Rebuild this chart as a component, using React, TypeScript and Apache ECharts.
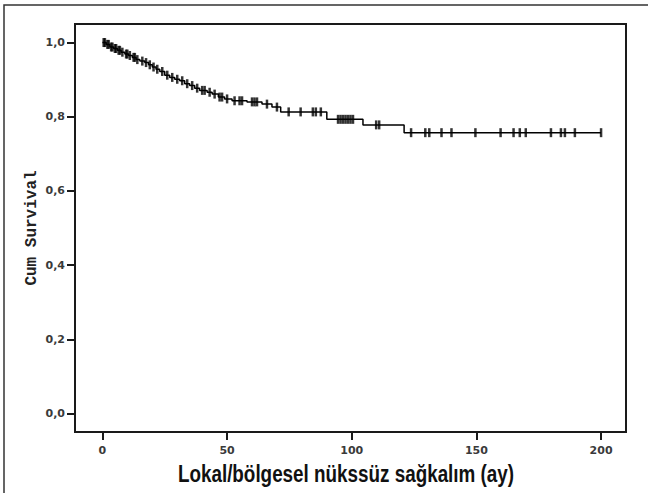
import React, { useEffect, useRef } from "react";
import * as echarts from "echarts";

// Kaplan-Meier step times (months) and survival after each step
const stepTimes = [0, 1.5, 3, 4.5, 6, 7.5, 9, 10.5, 12, 13.5, 15, 17, 18.5, 20, 21.5, 23, 25, 27, 29, 31, 33, 35, 37, 39, 42, 44, 46.5, 49, 52, 58, 64, 68, 71.5, 90, 104.5, 121];
const survivalSteps = [1.0, 0.995, 0.988, 0.984, 0.979, 0.974, 0.969, 0.965, 0.96, 0.954, 0.95, 0.946, 0.94, 0.934, 0.928, 0.922, 0.912, 0.906, 0.901, 0.897, 0.889, 0.884, 0.877, 0.871, 0.866, 0.861, 0.853, 0.848, 0.843, 0.84, 0.834, 0.826, 0.813, 0.793, 0.778, 0.757];
const endTime = 200;

// censored observations (months)
const censorTimes = [0.5, 1, 2, 2.5, 3.5, 4, 5, 5.5, 6.5, 7, 8, 9.5, 10, 11, 12.5, 13, 14, 16, 17.5, 19, 20.5, 22, 24, 26, 28, 30, 32, 34, 36, 38, 40, 41, 43, 45, 47, 48, 50, 53, 55, 56, 60, 61, 62, 66, 70, 74.7, 79.5, 84.4, 85.6, 87.6, 94.5, 95.5, 96.5, 97.5, 98.5, 99.5, 100.5, 109.8, 111, 123.8, 129.5, 131.1, 136, 140, 149.6, 159.7, 164.9, 167.4, 169.8, 179.9, 183.9, 185.5, 189.5, 200];

const xTicks = [0, 50, 100, 150, 200];
const yTicks = [0, 0.2, 0.4, 0.6, 0.8, 1.0];

const xTitle = "Lokal/bölgesel nükssüz sağkalım (ay)";
const yTitle = "Cum Survival";

function survivalAt(t: number): number {
  let s = survivalSteps[0];
  for (let i = 0; i < stepTimes.length; i++) {
    if (stepTimes[i] <= t) s = survivalSteps[i];
  }
  return s;
}

export default function App() {
  const ref = useRef<HTMLDivElement>(null);
  useEffect(() => {
    if (!ref.current) return;
    const chart = echarts.init(ref.current, null, { renderer: "svg" });
    const lineData: number[][] = stepTimes.map((t, i) => [t, survivalSteps[i]]);
    lineData.push([endTime, survivalSteps[survivalSteps.length - 1]]);
    const censorData = censorTimes.map((t) => [t, survivalAt(t)]);
    const labelStyle = {
      fontSize: 11,
      fontWeight: "bold" as const,
      color: "#3a3a3a",
      fontFamily: "DejaVu Sans",
    };
    chart.setOption({
      animation: false,
      graphic: [
        {
          type: "rect",
          shape: { x: 4, y: 5, width: 800, height: 700 },
          style: { fill: "none", stroke: "#333", lineWidth: 1.5 },
          silent: true,
        },
        {
          type: "text",
          x: 346,
          y: 474,
          scaleX: 0.82,
          silent: true,
          style: {
            text: xTitle,
            fontSize: 23,
            fontWeight: "bold",
            fontFamily: '"Liberation Sans", Arial, sans-serif',
            fill: "#111",
            textAlign: "center",
            textVerticalAlign: "middle",
          },
        },
      ],
      grid: {
        left: 75,
        right: 22,
        top: 24,
        bottom: 61,
        show: true,
        borderColor: "#1a1a1a",
        borderWidth: 2,
        backgroundColor: "transparent",
      },
      xAxis: {
        type: "value",
        min: -11,
        max: 210,
        axisLine: { show: false, onZero: false },
        splitLine: { show: false },
        axisTick: {
          show: true,
          inside: false,
          customValues: xTicks,
          length: 8,
          lineStyle: { color: "#1a1a1a", width: 2 },
        },
        axisLabel: { customValues: xTicks, margin: 13, ...labelStyle },
      },
      yAxis: {
        type: "value",
        min: -0.05,
        max: 1.05,
        axisLine: { show: false, onZero: false },
        splitLine: { show: false },
        axisTick: {
          show: true,
          inside: false,
          customValues: yTicks,
          length: 8,
          lineStyle: { color: "#1a1a1a", width: 2 },
        },
        axisLabel: {
          customValues: yTicks,
          margin: 10,
          formatter: (v: number) => v.toFixed(1).replace(".", ","),
          ...labelStyle,
        },
        name: yTitle,
        nameLocation: "middle",
        nameGap: 35,
        nameMoveOverlap: false,
        nameTextStyle: {
          fontSize: 16,
          fontWeight: "bold",
          color: "#222",
          fontFamily: '"Liberation Mono", "DejaVu Sans Mono", monospace',
        },
      },
      series: [
        {
          type: "line",
          step: "end",
          data: lineData,
          symbol: "none",
          lineStyle: { color: "#000", width: 1.5 },
          silent: true,
        },
        {
          type: "scatter",
          data: censorData,
          symbol: "rect",
          symbolSize: [2.5, 9],
          itemStyle: { color: "#000" },
          silent: true,
          z: 3,
        },
      ],
    });
    return () => chart.dispose();
  }, []);
  return (
    <div
      ref={ref}
      style={{ position: "fixed", left: 0, top: 0, width: 648, height: 493, background: "#fff" }}
    />
  );
}
